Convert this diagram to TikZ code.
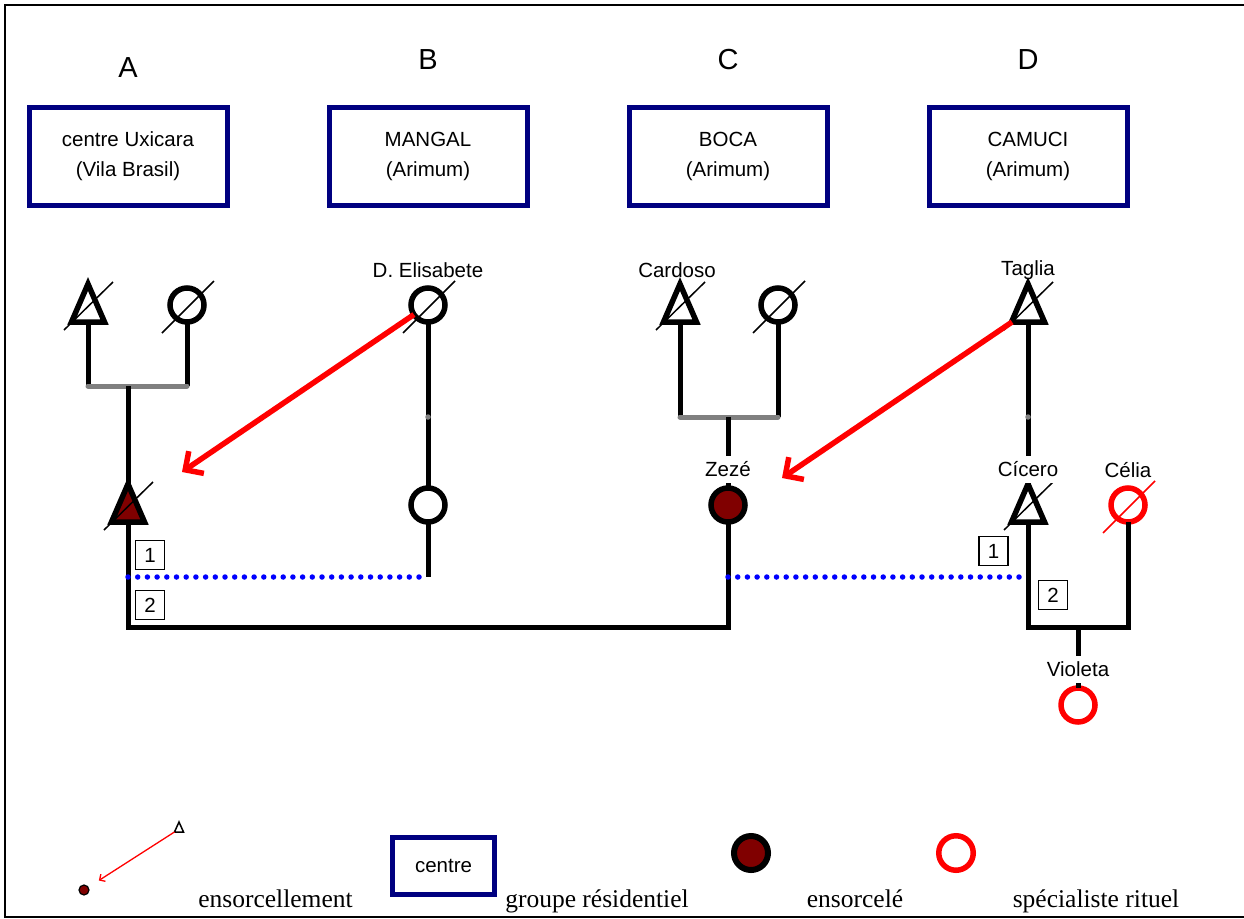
\documentclass[tikz,border=0pt]{standalone}
\usepackage{fontspec}
\setmainfont{Liberation Serif}
\setsansfont{Liberation Sans}
\usepackage{tikz}
\usetikzlibrary{arrows.meta,%
	shapes.geometric}
\usetikzlibrary {positioning}
\usetikzlibrary{calc}
\definecolor{navy}{RGB}{0,0,128}
\definecolor{darkred}{RGB}{128,0,0}

\begin{document}
\begin{tikzpicture}[x = 1pt, y = -1pt, on grid,
	male/.style = {isosceles triangle, isosceles triangle stretches, shape border rotate = 90, minimum width = 33pt, minimum height = 38pt, inner sep = 0pt, outer sep = 0pt, draw, line width = 5.5pt, fill = white},
	female/.style = {circle, draw, line width = 5.5pt, minimum size = 34pt, inner sep = 0pt, outer sep = 0pt, fill = white},
	group/.style = {draw = navy, line width = 5pt, minimum width = 198pt, minimum height = 98pt, align = center, font = \sffamily\fontsize{20.5}{30}\selectfont},
	letter/.style = {font = \sffamily\fontsize{29}{32}\selectfont},
	pname/.style = {font = \sffamily\fontsize{20.5}{24}\selectfont, inner sep = 1pt},
	midname/.style = {pname, fill = white, minimum height = 27pt},
	num/.style = {draw, line width = 1.3pt, fill = white, minimum size = 29pt, inner sep = 0pt, font = \sffamily\fontsize{20.5}{24}\selectfont},
	kin/.style = {line width = 5pt},
	bar/.style = {line width = 5pt, gray, line cap = round},
	marry/.style = {blue, line width = 5.5pt, line cap = round, dash pattern = on 0pt off 9.7pt},
	slash/.style = {line width = 1.5pt},
	spell/.style = {red, line width = 5.5pt, -{Straight Barb[angle = 90:19pt]}},
	dot/.style = {circle, fill = gray, minimum size = 5.5pt, inner sep = 0pt},
	legtext/.style = {font = \fontsize{25.5}{28}\selectfont, anchor = base}]
	\useasboundingbox (0,0) rectangle (1244,918);
	\draw[line width = 2pt] (5,5) rectangle (1248,916.5);

	% residential groups
	\node[letter] (lA) at (128,68) {A};
	\node[letter] (lB) at (428,60) {B};
	\node[letter] (lC) at (728,60) {C};
	\node[letter] (lD) at (1028,60) {D};
	\node[group] (gA) [below = 88.5pt of lA] {centre Uxicara\\(Vila Brasil)};
	\node[group] (gB) [below = 96.5pt of lB] {MANGAL\\(Arimum)};
	\node[group] (gC) [below = 96.5pt of lC] {BOCA\\(Arimum)};
	\node[group] (gD) [below = 96.5pt of lD] {CAMUCI\\(Arimum)};

	% persons
	\node[male, anchor = south] (uxM) at (88,322) {};
	\node[female] (uxF) at (187,305) {};
	\node[male, fill = darkred, anchor = south] (uxSon) at (128,522) {};
	\node[female] (elis) at (428,305) {};
	\node[female] (elisD) [below = 200pt of elis] {};
	\node[male, anchor = south] (cardoso) at (680,322) {};
	\node[female] (cardosoW) at (778,305) {};
	\node[female, fill = darkred] (zeze) at (728,505) {};
	\node[male, anchor = south] (taglia) at (1028,322) {};
	\node[male, anchor = south] (cicero) at (1028,522) {};
	\node[female, draw = red] (celia) at (1128,505) {};
	\node[female, draw = red] (violeta) at (1078,705) {};

	\coordinate (uA) at (128,386);
	\coordinate (uC) at (728,417);
	\coordinate (uD) at (1078,627);
	\coordinate (m1) at (128,577);
	\coordinate (m2) at (728,627);
	\coordinate (m3) at (728,577);
	\coordinate (hitA) at (182,472);
	\coordinate (hitC) at (782,478);

	% kinship lines
	\draw[kin] (uxM.south) -- (uxM.south |- uA);
	\draw[kin] (uxF.south) -- (uxF.south |- uA);
	\draw[bar] (uxM.south |- uA) -- (uxF.south |- uA);
	\draw[kin] (uA) -- (uxSon.north);
	\draw[kin] (elis) -- (elisD);
	\draw[kin] (elisD) -- (elisD |- m1);
	\draw[kin] (cardoso.south) -- (cardoso.south |- uC);
	\draw[kin] (cardosoW.south) -- (cardosoW.south |- uC);
	\draw[bar] (cardoso.south |- uC) -- (cardosoW.south |- uC);
	\draw[kin] (uC) -- (zeze);
	\draw[kin] (uxSon.south) |- (m2) -- (zeze);
	\draw[kin] (taglia.south) -- (cicero.north);
	\draw[kin] (cicero.south) |- (uD) -| (celia);
	\draw[kin] (uD) -- (violeta);
	\draw[marry] (m1) -- (elisD |- m1);
	\draw[marry] (m3) -- (cicero.south |- m3);
	\node[dot] (dB) at (428,417) {};
	\node[dot] (dD) at (1028,417) {};

	% deceased
	\foreach \p in {uxM, uxSon, cardoso, taglia, cicero}
		\draw[slash] ($(\p.south)+(-24,8)$) -- ($(\p.south)+(25,-40)$);
	\foreach \p in {uxF, elis, cardosoW}
		\draw[slash] ($(\p)+(-25,28)$) -- ($(\p)+(27,-24)$);
	\draw[slash, red] ($(celia)+(-25,28)$) -- ($(celia)+(27,-24)$);

	% sorcery
	\draw[spell] (elis) -- (hitA);
	\draw[spell] (taglia) -- (hitC);

	% marriage order
	\node[num] (n1A) at (150,555) {1};
	\node[num] (n2A) at (150,605) {2};
	\node[num] (n1D) at (993.5,551) {1};
	\node[num] (n2D) at (1053,595) {2};

	% names
	\node[pname] (tElis) [above = 35pt of elis] {D. Elisabete};
	\node[pname] (tCardoso) at (677,270) {Cardoso};
	\node[pname] (tTaglia) at (1028,270) {Taglia};
	\node[midname] (tZeze) at (728,469) {Zezé};
	\node[midname] (tCicero) at (1028,469) {Cícero};
	\node[pname] (tCelia) [above = 35pt of celia] {Célia};
	\node[midname] (tVioleta) at (1078,669) {Violeta};

	% legend
	\node[male, anchor = south, minimum width = 9pt, minimum height = 10pt, line width = 1.5pt] (ltri) at (179,832) {};
	\node[circle, draw, fill = darkred, line width = 1.2pt, minimum size = 10pt, inner sep = 0pt] (ldot) at (84,890) {};
	\draw[red, line width = 1.3pt, shorten >= 12pt, -{Straight Barb[angle = 90:6pt]}] (ltri) -- (ldot);
	\node[legtext] (tSpell) at (275.5,907) {ensorcellement};
	\node[group, minimum width = 102pt, minimum height = 57pt] (lbox) at (443.5,866) {centre};
	\node[legtext] (tGroup) at (597,907) {groupe résidentiel};
	\node[circle, draw, fill = darkred, line width = 6pt, minimum size = 34pt, inner sep = 0pt] (lvict) at (751,853) {};
	\node[legtext] (tVict) at (855,907) {ensorcelé};
	\node[circle, draw = red, line width = 5.5pt, minimum size = 34.5pt, inner sep = 0pt] (lspec) at (956,853) {};
	\node[legtext] (tSpec) at (1096,907) {spécialiste rituel};
\end{tikzpicture}
\end{document}
